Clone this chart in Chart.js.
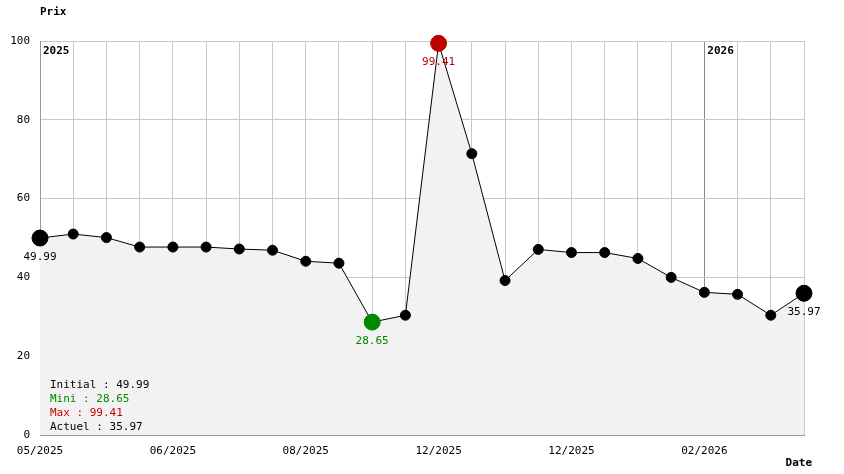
<!DOCTYPE html>
<html>
<head>
<meta charset="utf-8">
<script src="https://cdn.jsdelivr.net/npm/chart.js@4"></script>
<style>
  html, body { margin: 0; padding: 0; background: #fff; }
  #wrap { width: 844px; height: 474px; }
</style>
</head>
<body>
<div id="wrap"><canvas id="chart"></canvas></div>
<script>
// price history, one point every ~2 weeks
const prices = [49.99, 51.0, 50.1, 47.7, 47.7, 47.7, 47.2, 46.9, 44.1, 43.6, 28.65, 30.4,
  99.41, 71.4, 39.2, 47.1, 46.3, 46.3, 44.8, 40.0, 36.2, 35.7, 30.4, 35.97];
const tickLabels = { 0: '05/2025', 4: '06/2025', 8: '08/2025', 12: '12/2025', 16: '12/2025', 20: '02/2026' };
const yearMarks = [{ index: 0, label: '2025' }, { index: 20, label: '2026' }];
const summary = [
  { text: 'Initial : 49.99', color: '#000' },
  { text: 'Mini : 28.65', color: '#008800' },
  { text: 'Max : 99.41', color: '#cc0000' },
  { text: 'Actuel : 35.97', color: '#000' }
];

const FONT = '11px "DejaVu Sans Mono", monospace';
const minIdx = prices.indexOf(Math.min(...prices));
const maxIdx = prices.indexOf(Math.max(...prices));
const lastIdx = prices.length - 1;

const pointColors = prices.map((v, i) => i === minIdx ? '#008800' : i === maxIdx ? '#bb0000' : '#000');
const pointSizes = prices.map((v, i) => (i === 0 || i === lastIdx || i === minIdx || i === maxIdx) ? 8 : 5);

const annotations = {
  id: 'annotations',
  afterDraw(chart) {
    const { ctx, chartArea, scales: { x, y } } = chart;
    ctx.save();
    ctx.font = 'bold ' + FONT;
    ctx.fillStyle = '#000';
    ctx.textBaseline = 'middle';
    ctx.textAlign = 'left';
    ctx.fillText('Prix', 40, 12);
    ctx.textAlign = 'right';
    ctx.fillText('Date', 812, 463);
    ctx.textAlign = 'left';
    yearMarks.forEach(m => ctx.fillText(m.label, x.getPixelForValue(m.index) + 3, chartArea.top + 10));

    ctx.font = FONT;
    ctx.textAlign = 'center';
    const labelled = [0, minIdx, maxIdx, lastIdx];
    labelled.forEach(i => {
      ctx.fillStyle = pointColors[i];
      ctx.fillText(prices[i].toFixed(2), x.getPixelForValue(i), y.getPixelForValue(prices[i]) + 19);
    });

    ctx.textAlign = 'left';
    summary.forEach((s, k) => {
      ctx.fillStyle = s.color;
      ctx.fillText(s.text, 50, 385 + k * 14);
    });
    ctx.restore();
  }
};

new Chart(document.getElementById('chart'), {
  type: 'line',
  data: {
    datasets: [{
      data: prices.map((v, i) => ({ x: i, y: v })),
      borderColor: '#000',
      borderWidth: 1,
      backgroundColor: '#f2f2f2',
      fill: 'origin',
      tension: 0,
      clip: false,
      pointBackgroundColor: pointColors,
      pointBorderColor: pointColors,
      pointRadius: pointSizes,
      pointHoverRadius: pointSizes
    }]
  },
  options: {
    responsive: true,
    maintainAspectRatio: false,
    animation: false,
    layout: { padding: { top: 41, right: 40, left: 0, bottom: 0 } },
    plugins: { legend: { display: false }, tooltip: { enabled: false } },
    scales: {
      x: {
        type: 'linear',
        min: 0,
        max: lastIdx,
        afterFit: s => { s.height = 39; },
        afterBuildTicks: s => { s.ticks = prices.map((v, i) => ({ value: i })); },
        grid: {
          color: c => c.tick && c.tick.value === 20 ? '#888' : '#c8c8c8',
          drawTicks: false
        },
        border: { color: '#999' },
        ticks: {
          autoSkip: false,
          maxRotation: 0,
          padding: 10,
          color: '#000',
          font: { family: 'DejaVu Sans Mono', size: 11 },
          callback: v => tickLabels[v] || ''
        }
      },
      y: {
        min: 0,
        max: 100,
        afterFit: s => { s.width = 40; },
        grid: { color: '#c8c8c8', drawTicks: false },
        border: { color: '#999' },
        ticks: {
          stepSize: 20,
          padding: 10,
          color: '#000',
          font: { family: 'DejaVu Sans Mono', size: 11 }
        }
      }
    }
  },
  plugins: [annotations]
});
</script>
</body>
</html>
